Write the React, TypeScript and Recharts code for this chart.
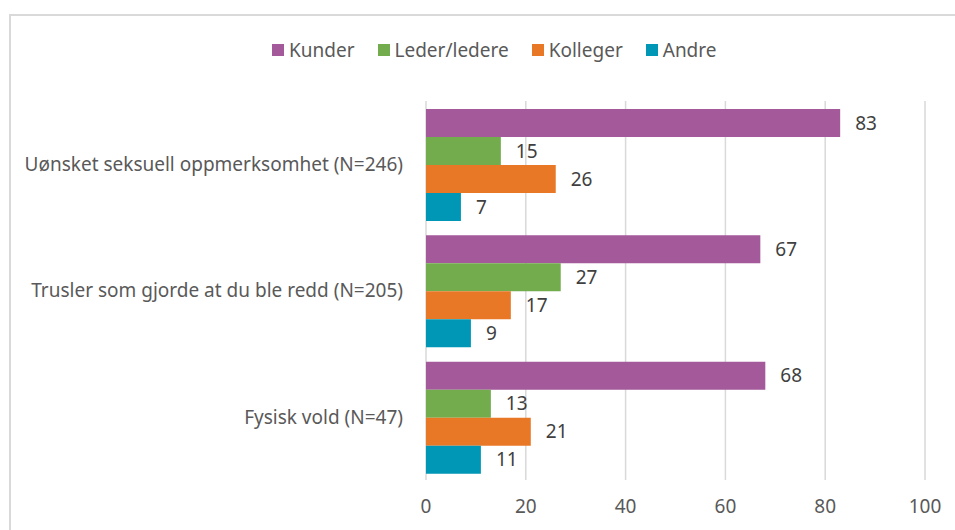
import React from 'react'
import { BarChart, Bar, XAxis, YAxis, CartesianGrid, Legend, LabelList } from 'recharts'

const CATEGORIES = [
  'Uønsket seksuell oppmerksomhet (N=246)',
  'Trusler som gjorde at du ble redd (N=205)',
  'Fysisk vold (N=47)',
]
const KUNDER = [83, 67, 68]
const LEDERE = [15, 27, 13]
const KOLLEGER = [26, 17, 21]
const ANDRE = [7, 9, 11]
const X_TICKS = [0, 20, 40, 60, 80, 100]

const SERIES = [
  { key: 'kunder', name: 'Kunder', color: '#A3599A' },
  { key: 'ledere', name: 'Leder/ledere', color: '#72AC4D' },
  { key: 'kolleger', name: 'Kolleger', color: '#E97826' },
  { key: 'andre', name: 'Andre', color: '#0096B5' },
]

const data = CATEGORIES.map((label, i) => ({
  label,
  kunder: KUNDER[i],
  ledere: LEDERE[i],
  kolleger: KOLLEGER[i],
  andre: ANDRE[i],
}))

const FONT = '"Noto Sans", sans-serif'
const TEXT = '#595959'
const FS = 19

function LegendContent() {
  return (
    <div style={{ display: 'flex', gap: 23, fontFamily: FONT, fontSize: FS, color: TEXT, lineHeight: '24px' }}>
      {SERIES.map((s) => (
        <div key={s.key} style={{ display: 'flex', alignItems: 'center', gap: 5 }}>
          <span style={{ display: 'inline-block', width: 12, height: 12, background: s.color }} />
          <span>{s.name}</span>
        </div>
      ))}
    </div>
  )
}

export default function App() {
  return (
    <div style={{ position: 'fixed', left: 0, top: 0, width: 955, height: 530, overflow: 'hidden', background: '#fff' }}>
      <div
        style={{
          position: 'absolute',
          left: 9,
          top: 14,
          width: 980,
          height: 560,
          border: '2px solid #d9d9d9',
          boxSizing: 'border-box',
        }}
      />
      <div style={{ position: 'absolute', left: 0, top: 0 }}>
        <BarChart
          width={955}
          height={530}
          layout="vertical"
          data={data}
          margin={{ top: 77, right: 30, bottom: 20, left: 0 }}
          barCategoryGap={8}
          barGap={0}
        >
          <CartesianGrid horizontal={false} stroke="#d9d9d9" strokeWidth={1.5} />
          <XAxis
            type="number"
            domain={[0, 100]}
            ticks={X_TICKS}
            tick={{ fontSize: FS, fill: TEXT, fontFamily: FONT }}
            tickLine={false}
            axisLine={false}
            tickMargin={14}
            height={30}
          />
          <YAxis
            type="category"
            dataKey="label"
            width={426}
            tick={{ fontSize: FS, fill: TEXT, fontFamily: FONT }}
            tickLine={false}
            axisLine={false}
            tickMargin={17}
          />
          <Legend
            verticalAlign="top"
            content={() => <LegendContent />}
            wrapperStyle={{ position: 'absolute', top: 38, left: 272, width: 'auto' }}
          />
          {SERIES.map((s) => (
            <Bar key={s.key} dataKey={s.key} name={s.name} fill={s.color} isAnimationActive={false}>
              <LabelList
                dataKey={s.key}
                position="right"
                offset={15}
                style={{ fontSize: FS, fill: '#404040', fontFamily: FONT }}
              />
            </Bar>
          ))}
        </BarChart>
      </div>
    </div>
  )
}
